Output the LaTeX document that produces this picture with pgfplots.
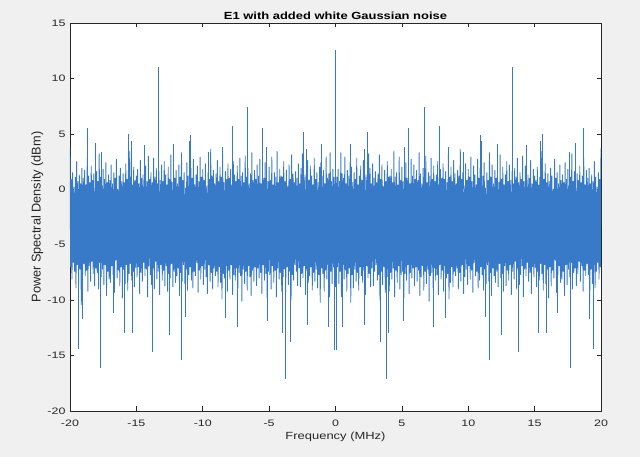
\documentclass[border=0pt]{standalone}
\usepackage{pgfplots}
\pgfplotsset{compat=1.18}
\usepackage{fontspec}
\setmainfont{Liberation Sans}
\usepackage{graphicx}
\definecolor{bggray}{RGB}{240,240,240}
\definecolor{mblue}{RGB}{56,122,200}
\definecolor{axgray}{RGB}{38,38,38}
\begin{document}
\begin{tikzpicture}
\path[use as bounding box, fill=bggray] (-70bp,-46bp) rectangle (570bp,411bp);
\begin{axis}[
  at={(0,0)}, anchor=south west,
  scale only axis, width=531bp, height=388bp,
  xmin=-20, xmax=20, ymin=-20, ymax=15,
  xtick={-20,-15,...,20}, ytick={-20,-15,...,15},
  axis background/.style={fill=white},
  axis line style={draw=axgray, line width=0.7bp},
  every tick/.style={draw=axgray, line width=0.6bp},
  major tick length=4.5bp,
  tick align=inside,
  /pgf/number format/assume math mode=true,
  xticklabel={\scalebox{1}[0.75]{\fontsize{12.5}{14}\selectfont\pgfmathprintnumber{\tick}}},
  yticklabel={\scalebox{1}[0.75]{\fontsize{12.5}{14}\selectfont\pgfmathprintnumber{\tick}}},
  xticklabel style={anchor=base, yshift=-15.7bp, text=axgray},
  yticklabel style={text=axgray, xshift=-1bp},
  every axis title/.style={at={(axis description cs:0.5,1.0095)}, anchor=base},
  title={\scalebox{1}[0.8]{\fontsize{13}{15}\selectfont\bfseries E1 with added white Gaussian noise}},
  every axis x label/.style={at={(axis description cs:0.5,-0.0747)}, anchor=base, text=axgray},
  xlabel={\scalebox{1}[0.8]{\fontsize{13}{15}\selectfont Frequency (MHz)}},
  every axis y label/.style={at={(axis description cs:-0.0552,0.5)}, anchor=base, rotate=90, text=axgray},
  ylabel={\fontsize{12.8}{15}\selectfont Power Spectral Density (dBm)},
]
\addplot[mblue, line width=0.9bp, line join=round, no markers] table {
x y
-20 3.7
-19.95 -7.0
-19.9 0.9
-19.85 -8.1
-19.8 1.5
-19.75 -6.6
-19.7 0.2
-19.65 -7.4
-19.6 1.1
-19.55 -8.9
-19.5 2.5
-19.45 -6.8
-19.4 0.7
-19.35 -8.5
-19.3 1.3
-19.25 -7.2
-19.2 0.5
-19.15 -10.4
-19.1 1.9
-19.05 -7.7
-19 1.0
-18.95 -6.7
-18.9 1.7
-18.85 -7.8
-18.8 0.4
-18.75 -7.3
-18.7 2.9
-18.65 -9.2
-18.6 1.2
-18.55 -6.9
-18.5 0.6
-18.45 -8.3
-18.4 2.1
-18.35 -6.5
-18.3 0.8
-18.25 -7.6
-18.2 1.4
-18.15 -8.7
-18.1 0.1
-18.05 -7.1
-18 1.6
-17.95 -7.5
-17.9 0.7
-17.85 -9.0
-17.8 3.2
-17.75 -6.6
-17.7 1.1
-17.65 -7.9
-17.6 0.3
-17.55 -7.2
-17.5 1.8
-17.45 -8.6
-17.4 0.9
-17.35 -6.8
-17.3 2.4
-17.25 -9.6
-17.2 0.6
-17.15 -7.4
-17.1 1.3
-17.05 -8.1
-17 0.8
-16.95 -8.4
-16.9 2.2
-16.85 -6.9
-16.8 0.5
-16.75 -7.7
-16.7 1.5
-16.65 -9.3
-16.6 1.0
-16.55 -6.4
-16.5 2.7
-16.45 -8.0
-16.4 0.0
-16.35 -7.3
-16.3 1.2
-16.25 -8.7
-16.2 1.9
-16.15 -7.0
-16.1 0.7
-16.05 -9.8
-16 1.4
-15.95 -7.2
-15.9 0.6
-15.85 -8.5
-15.8 2.3
-15.75 -6.8
-15.7 0.9
-15.65 -9.1
-15.6 1.7
-15.55 -7.6
-15.5 3.4
-15.45 -6.7
-15.4 1.1
-15.35 -8.2
-15.3 0.4
-15.25 -7.4
-15.2 2.0
-15.15 -8.8
-15.1 0.8
-15.05 -7.1
-15 1.2
-14.95 -7.9
-14.9 1.8
-14.85 -7.0
-14.8 0.5
-14.75 -9.4
-14.7 2.6
-14.65 -7.5
-14.6 1.0
-14.55 -8.3
-14.5 1.3
-14.45 -6.6
-14.4 0.2
-14.35 -7.8
-14.3 2.1
-14.25 -7.2
-14.2 0.7
-14.15 -9.7
-14.1 3.0
-14.05 -6.9
-14 0.9
-13.95 -7.7
-13.9 1.5
-13.85 -8.6
-13.8 0.6
-13.75 -7.1
-13.7 2.8
-13.65 -9.0
-13.6 1.1
-13.55 -6.5
-13.5 1.9
-13.45 -8.1
-13.4 0.5
-13.35 -7.4
-13.3 1.6
-13.25 -9.5
-13.2 0.8
-13.15 -6.8
-13.1 2.2
-13.05 -8.2
-13 0.7
-12.95 -7.3
-12.9 2.5
-12.85 -8.7
-12.8 1.3
-12.75 -6.9
-12.7 0.4
-12.65 -9.2
-12.6 2.0
-12.55 -7.6
-12.5 0.9
-12.45 -8.0
-12.4 3.1
-12.35 -6.7
-12.3 0.6
-12.25 -8.8
-12.2 1.4
-12.15 -7.4
-12.1 1.0
-12.05 -8.4
-12 1.7
-11.95 -7.8
-11.9 0.5
-11.85 -7.1
-11.8 2.2
-11.75 -9.6
-11.7 1.1
-11.65 -7.5
-11.6 3.3
-11.55 -8.3
-11.5 0.8
-11.45 -6.8
-11.4 1.5
-11.35 -8.5
-11.3 0.1
-11.25 -7.2
-11.2 2.4
-11.15 -9.1
-11.1 1.2
-11.05 -7.7
-11 0.6
-10.95 -7.0
-10.9 1.9
-10.85 -8.2
-10.8 1.0
-10.75 -8.9
-10.7 2.7
-10.65 -7.4
-10.6 0.4
-10.55 -7.8
-10.5 1.3
-10.45 -6.6
-10.4 2.1
-10.35 -9.3
-10.3 0.7
-10.25 -7.3
-10.2 2.9
-10.15 -8.1
-10.1 1.1
-10.05 -6.9
-10 1.8
-9.95 -8.6
-9.9 0.8
-9.85 -7.2
-9.8 2.3
-9.75 -7.9
-9.7 0.3
-9.65 -9.4
-9.6 1.5
-9.55 -6.8
-9.5 0.9
-9.45 -8.3
-9.4 3.6
-9.35 -7.5
-9.3 1.2
-9.25 -9.0
-9.2 1.7
-9.15 -7.1
-9.1 0.5
-9.05 -7.8
-9 1.4
-8.95 -7.4
-8.9 2.6
-8.85 -8.8
-8.8 0.7
-8.75 -7.0
-8.7 2.0
-8.65 -8.4
-8.6 1.1
-8.55 -9.9
-8.5 3.2
-8.45 -7.6
-8.4 0.6
-8.35 -8.0
-8.3 1.6
-8.25 -6.9
-8.2 0.9
-8.15 -9.2
-8.1 2.3
-8.05 -7.3
-8 1.0
-7.95 -8.1
-7.9 1.8
-7.85 -6.8
-7.8 0.4
-7.75 -9.5
-7.7 2.5
-7.65 -7.7
-7.6 1.3
-7.55 -8.2
-7.5 0.7
-7.45 -7.1
-7.4 2.1
-7.35 -8.9
-7.3 0.9
-7.25 -7.5
-7.2 2.8
-7.15 -7.8
-7.1 1.2
-7.05 -10.1
-7 1.5
-6.95 -7.2
-6.9 0.6
-6.85 -8.5
-6.8 3.0
-6.75 -7.4
-6.7 1.1
-6.65 -9.1
-6.6 1.9
-6.55 -6.9
-6.5 0.5
-6.45 -7.9
-6.4 1.4
-6.35 -9.6
-6.3 3.3
-6.25 -7.3
-6.2 0.8
-6.15 -8.3
-6.1 1.7
-6.05 -7.0
-6 0.9
-5.95 -8.7
-5.9 2.2
-5.85 -7.1
-5.8 1.2
-5.75 -8.0
-5.7 2.7
-5.65 -7.5
-5.6 0.5
-5.55 -9.4
-5.5 1.6
-5.45 -6.8
-5.4 1.0
-5.35 -8.2
-5.3 2.4
-5.25 -7.6
-5.2 1.3
-5.15 -9.8
-5.1 0.7
-5.05 -7.4
-5 2.0
-4.95 -7.7
-4.9 0.8
-4.85 -9.0
-4.8 2.9
-4.75 -6.9
-4.7 0.4
-4.65 -8.4
-4.6 1.5
-4.55 -7.3
-4.5 1.1
-4.45 -9.7
-4.4 3.4
-4.35 -7.1
-4.3 0.6
-4.25 -8.1
-4.2 1.8
-4.15 -7.5
-4.1 1.2
-4.05 -9.2
-4 1.1
-3.95 -7.9
-3.9 2.5
-3.85 -7.2
-3.8 0.7
-3.75 -9.3
-3.7 1.7
-3.65 -7.0
-3.6 0.3
-3.55 -8.6
-3.5 2.2
-3.45 -7.4
-3.4 0.9
-3.35 -10.0
-3.3 3.1
-3.25 -7.7
-3.2 1.4
-3.15 -8.2
-3.1 0.6
-3.05 -6.8
-3 1.6
-2.95 -7.4
-2.9 1.0
-2.85 -8.7
-2.8 2.3
-2.75 -7.1
-2.7 0.5
-2.65 -8.8
-2.6 1.9
-2.55 -7.6
-2.5 3.2
-2.45 -8.0
-2.4 0.8
-2.35 -6.9
-2.3 1.3
-2.25 -9.5
-2.2 1.1
-2.15 -7.3
-2.1 2.6
-2.05 -8.4
-2 0.8
-1.95 -7.8
-1.9 2.1
-1.85 -7.0
-1.8 1.2
-1.75 -9.1
-1.7 0.4
-1.65 -7.5
-1.6 2.8
-1.55 -8.3
-1.5 0.9
-1.45 -7.2
-1.4 1.5
-1.35 -8.9
-1.3 0.6
-1.25 -7.7
-1.2 2.0
-1.15 -10.2
-1.1 2.4
-1.05 -7.1
-1 1.2
-0.95 -7.6
-0.9 1.7
-0.85 -9.2
-0.8 0.5
-0.75 -7.3
-0.7 2.9
-0.65 -8.1
-0.6 1.0
-0.55 -6.8
-0.5 1.4
-0.45 -9.7
-0.4 3.3
-0.35 -7.4
-0.3 0.7
-0.25 -8.5
-0.2 1.8
-0.15 -7.0
-0.1 1.1
-0.05 -8.8
0 1.3
0.05 -8.8
};
\addplot[mblue, line width=0.9bp, line join=round, no markers] table {
x y
20 3.7
19.95 -7.0
19.9 0.9
19.85 -8.1
19.8 1.5
19.75 -6.6
19.7 0.2
19.65 -7.4
19.6 1.1
19.55 -8.9
19.5 2.5
19.45 -6.8
19.4 0.7
19.35 -8.5
19.3 1.3
19.25 -7.2
19.2 0.5
19.15 -10.4
19.1 1.9
19.05 -7.7
19 1.0
18.95 -6.7
18.9 1.7
18.85 -7.8
18.8 0.4
18.75 -7.3
18.7 2.9
18.65 -9.2
18.6 1.2
18.55 -6.9
18.5 0.6
18.45 -8.3
18.4 2.1
18.35 -6.5
18.3 0.8
18.25 -7.6
18.2 1.4
18.15 -8.7
18.1 0.1
18.05 -7.1
18 1.6
17.95 -7.5
17.9 0.7
17.85 -9.0
17.8 3.2
17.75 -6.6
17.7 1.1
17.65 -7.9
17.6 0.3
17.55 -7.2
17.5 1.8
17.45 -8.6
17.4 0.9
17.35 -6.8
17.3 2.4
17.25 -9.6
17.2 0.6
17.15 -7.4
17.1 1.3
17.05 -8.1
17 0.8
16.95 -8.4
16.9 2.2
16.85 -6.9
16.8 0.5
16.75 -7.7
16.7 1.5
16.65 -9.3
16.6 1.0
16.55 -6.4
16.5 2.7
16.45 -8.0
16.4 0.0
16.35 -7.3
16.3 1.2
16.25 -8.7
16.2 1.9
16.15 -7.0
16.1 0.7
16.05 -9.8
16 1.4
15.95 -7.2
15.9 0.6
15.85 -8.5
15.8 2.3
15.75 -6.8
15.7 0.9
15.65 -9.1
15.6 1.7
15.55 -7.6
15.5 3.4
15.45 -6.7
15.4 1.1
15.35 -8.2
15.3 0.4
15.25 -7.4
15.2 2.0
15.15 -8.8
15.1 0.8
15.05 -7.1
15 1.2
14.95 -7.9
14.9 1.8
14.85 -7.0
14.8 0.5
14.75 -9.4
14.7 2.6
14.65 -7.5
14.6 1.0
14.55 -8.3
14.5 1.3
14.45 -6.6
14.4 0.2
14.35 -7.8
14.3 2.1
14.25 -7.2
14.2 0.7
14.15 -9.7
14.1 3.0
14.05 -6.9
14 0.9
13.95 -7.7
13.9 1.5
13.85 -8.6
13.8 0.6
13.75 -7.1
13.7 2.8
13.65 -9.0
13.6 1.1
13.55 -6.5
13.5 1.9
13.45 -8.1
13.4 0.5
13.35 -7.4
13.3 1.6
13.25 -9.5
13.2 0.8
13.15 -6.8
13.1 2.2
13.05 -8.2
13 0.7
12.95 -7.3
12.9 2.5
12.85 -8.7
12.8 1.3
12.75 -6.9
12.7 0.4
12.65 -9.2
12.6 2.0
12.55 -7.6
12.5 0.9
12.45 -8.0
12.4 3.1
12.35 -6.7
12.3 0.6
12.25 -8.8
12.2 1.4
12.15 -7.4
12.1 1.0
12.05 -8.4
12 1.7
11.95 -7.8
11.9 0.5
11.85 -7.1
11.8 2.2
11.75 -9.6
11.7 1.1
11.65 -7.5
11.6 3.3
11.55 -8.3
11.5 0.8
11.45 -6.8
11.4 1.5
11.35 -8.5
11.3 0.1
11.25 -7.2
11.2 2.4
11.15 -9.1
11.1 1.2
11.05 -7.7
11 0.6
10.95 -7.0
10.9 1.9
10.85 -8.2
10.8 1.0
10.75 -8.9
10.7 2.7
10.65 -7.4
10.6 0.4
10.55 -7.8
10.5 1.3
10.45 -6.6
10.4 2.1
10.35 -9.3
10.3 0.7
10.25 -7.3
10.2 2.9
10.15 -8.1
10.1 1.1
10.05 -6.9
10 1.8
9.95 -8.6
9.9 0.8
9.85 -7.2
9.8 2.3
9.75 -7.9
9.7 0.3
9.65 -9.4
9.6 1.5
9.55 -6.8
9.5 0.9
9.45 -8.3
9.4 3.6
9.35 -7.5
9.3 1.2
9.25 -9.0
9.2 1.7
9.15 -7.1
9.1 0.5
9.05 -7.8
9 1.4
8.95 -7.4
8.9 2.6
8.85 -8.8
8.8 0.7
8.75 -7.0
8.7 2.0
8.65 -8.4
8.6 1.1
8.55 -9.9
8.5 3.2
8.45 -7.6
8.4 0.6
8.35 -8.0
8.3 1.6
8.25 -6.9
8.2 0.9
8.15 -9.2
8.1 2.3
8.05 -7.3
8 1.0
7.95 -8.1
7.9 1.8
7.85 -6.8
7.8 0.4
7.75 -9.5
7.7 2.5
7.65 -7.7
7.6 1.3
7.55 -8.2
7.5 0.7
7.45 -7.1
7.4 2.1
7.35 -8.9
7.3 0.9
7.25 -7.5
7.2 2.8
7.15 -7.8
7.1 1.2
7.05 -10.1
7 1.5
6.95 -7.2
6.9 0.6
6.85 -8.5
6.8 3.0
6.75 -7.4
6.7 1.1
6.65 -9.1
6.6 1.9
6.55 -6.9
6.5 0.5
6.45 -7.9
6.4 1.4
6.35 -9.6
6.3 3.3
6.25 -7.3
6.2 0.8
6.15 -8.3
6.1 1.7
6.05 -7.0
6 0.9
5.95 -8.7
5.9 2.2
5.85 -7.1
5.8 1.2
5.75 -8.0
5.7 2.7
5.65 -7.5
5.6 0.5
5.55 -9.4
5.5 1.6
5.45 -6.8
5.4 1.0
5.35 -8.2
5.3 2.4
5.25 -7.6
5.2 1.3
5.15 -9.8
5.1 0.7
5.05 -7.4
5 2.0
4.95 -7.7
4.9 0.8
4.85 -9.0
4.8 2.9
4.75 -6.9
4.7 0.4
4.65 -8.4
4.6 1.5
4.55 -7.3
4.5 1.1
4.45 -9.7
4.4 3.4
4.35 -7.1
4.3 0.6
4.25 -8.1
4.2 1.8
4.15 -7.5
4.1 1.2
4.05 -9.2
4 1.1
3.95 -7.9
3.9 2.5
3.85 -7.2
3.8 0.7
3.75 -9.3
3.7 1.7
3.65 -7.0
3.6 0.3
3.55 -8.6
3.5 2.2
3.45 -7.4
3.4 0.9
3.35 -10.0
3.3 3.1
3.25 -7.7
3.2 1.4
3.15 -8.2
3.1 0.6
3.05 -6.8
3 1.6
2.95 -7.4
2.9 1.0
2.85 -8.7
2.8 2.3
2.75 -7.1
2.7 0.5
2.65 -8.8
2.6 1.9
2.55 -7.6
2.5 3.2
2.45 -8.0
2.4 0.8
2.35 -6.9
2.3 1.3
2.25 -9.5
2.2 1.1
2.15 -7.3
2.1 2.6
2.05 -8.4
2 0.8
1.95 -7.8
1.9 2.1
1.85 -7.0
1.8 1.2
1.75 -9.1
1.7 0.4
1.65 -7.5
1.6 2.8
1.55 -8.3
1.5 0.9
1.45 -7.2
1.4 1.5
1.35 -8.9
1.3 0.6
1.25 -7.7
1.2 2.0
1.15 -10.2
1.1 2.4
1.05 -7.1
1 1.2
0.95 -7.6
0.9 1.7
0.85 -9.2
0.8 0.5
0.75 -7.3
0.7 2.9
0.65 -8.1
0.6 1.0
0.55 -6.8
0.5 1.4
0.45 -9.7
0.4 3.3
0.35 -7.4
0.3 0.7
0.25 -8.5
0.2 1.8
0.15 -7.0
0.1 1.1
0.05 -8.8
0 1.3
-0.05 -8.8
};
\addplot[mblue, line width=0.75bp, ycomb, no markers] table {
x y
-19.4 -14.4
-19.1 -11.7
-18.7 5.5
-18.1 4.2
-17.7 -16.1
-17.6 3.4
-16.7 -11.2
-15.9 -13.0
-15.6 5.0
-15.4 4.4
-15.3 -13.0
-14.4 4.0
-13.8 -14.7
-13.33 11.0
-12.5 -13.1
-12.2 4.1
-11.6 -15.4
-11.3 -11.5
-11.0 4.4
-10.9 4.9
-9.6 3.4
-8.5 3.8
-8.3 -11.6
-7.8 5.7
-7.4 -12.4
-6.67 7.4
-5.5 5.5
-5.2 3.8
-5.1 -11.9
-4.0 -13.0
-3.8 -17.1
-3.4 -13.8
-2.4 5.2
-2.2 3.6
-2.15 -12.2
-1.1 4.1
-0.55 -12.4
-0.1 -14.5
0 12.6
0.1 -14.5
0.55 -12.4
1.1 4.1
2.15 -12.2
2.2 3.6
2.4 5.2
3.4 -13.8
3.8 -17.1
4.0 -13.0
5.1 -11.9
5.2 3.8
5.5 5.5
6.67 7.4
7.4 -12.4
7.8 5.7
8.3 -11.6
8.5 3.8
9.6 3.4
10.9 4.9
11.0 4.4
11.3 -11.5
11.6 -15.4
12.2 4.1
12.5 -13.1
13.33 11.0
13.8 -14.7
14.4 4.0
15.3 -13.0
15.4 4.4
15.6 5.0
15.9 -13.0
16.7 -11.2
17.6 3.4
17.7 -16.1
18.1 4.2
18.7 5.5
19.1 -11.7
19.4 -14.4
};
\end{axis}
\end{tikzpicture}
\end{document}
